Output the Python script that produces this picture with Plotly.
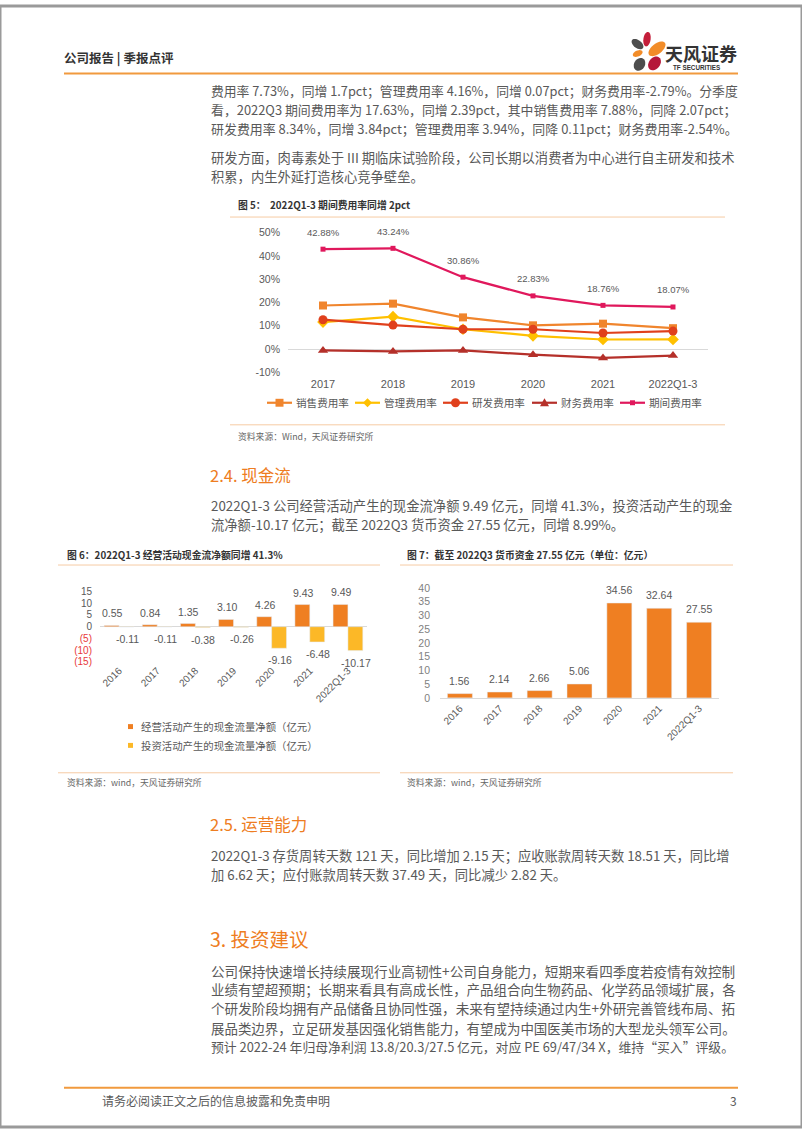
import math
import plotly.graph_objects as go

W, H = 802, 1133


def X(px):
    return px / W


def Y(py):
    return 1 - py / H


# ---------------- data ----------------
years1 = ["2017", "2018", "2019", "2020", "2021", "2022Q1-3"]
sales_rate = [18.7, 19.5, 13.6, 10.2, 10.9, 8.97]
admin_rate = [11.6, 13.9, 8.5, 5.7, 4.1, 4.16]
rd_rate = [12.6, 10.3, 8.5, 8.5, 6.9, 7.73]
fin_rate = [-0.6, -1.0, -0.6, -2.4, -3.8, -2.79]
period_rate = [42.88, 43.24, 30.86, 22.83, 18.76, 18.07]
names1 = ["销售费用率", "管理费用率", "研发费用率", "财务费用率", "期间费用率"]

years2 = ["2016", "2017", "2018", "2019", "2020", "2021", "2022Q1-3"]
op_cf = [0.55, 0.84, 1.35, 3.10, 4.26, 9.43, 9.49]
inv_cf = [-0.11, -0.11, -0.38, -0.26, -9.16, -6.48, -10.17]
names2 = ["经营活动产生的现金流量净额（亿元）", "投资活动产生的现金流量净额（亿元）"]

cash = [1.56, 2.14, 2.66, 5.06, 34.56, 32.64, 27.55]

y1_ticks = [-10, 0, 10, 20, 30, 40, 50]
y1_ticktext = [f"{v}%" for v in y1_ticks]
y2_ticks = [15, 10, 5, 0, -5, -10, -15]
y2_ticktext = ["15", "10", "5", "0", "(5)", "(10)", "(15)"]
y3_ticks = [0, 5, 10, 15, 20, 25, 30, 35, 40]

# ---------------- styles ----------------
CJK = "Noto Sans CJK SC"
BODY_FONT = "Noto Sans CJK SC, sans-serif"
CHART_FONT = "Liberation Sans, Noto Sans CJK SC, sans-serif"
GRAY = "#595959"
ORANGE = "#EE7D22"
C_SALES = "#F0852D"
C_ADMIN = "#FFC000"
C_RD = "#E0401C"
C_FIN = "#B5302A"
C_PERIOD = "#E0185C"
C_OP = "#EF7F22"
C_INV = "#FCB827"
PEACH = "#F6CBA4"

fig = go.Figure()

# ---------------- chart 5 (lines) ----------------
series1 = [
    (sales_rate, C_SALES, "square", 8),
    (admin_rate, C_ADMIN, "diamond", 9),
    (rd_rate, C_RD, "circle", 9),
    (fin_rate, C_FIN, "triangle-up", 9),
    (period_rate, C_PERIOD, "square", 5),
]
for (vals, col, sym, sz), nm in zip(series1, names1):
    fig.add_trace(go.Scatter(
        x=years1, y=vals, name=nm, mode="lines+markers",
        line=dict(color=col, width=2.2),
        marker=dict(symbol=sym, size=sz, color=col),
        xaxis="x", yaxis="y", showlegend=False, cliponaxis=False,
    ))
for i, v in enumerate(period_rate):
    fig.add_annotation(x=i, y=v, xref="x", yref="y", text=f"{v:.2f}%",
                       showarrow=False, yshift=17,
                       font=dict(family=CHART_FONT, size=9.5, color=GRAY))

# ---------------- chart 6 (grouped bars) ----------------
slot6 = 0.39
fig.add_trace(go.Bar(x=years2, y=op_cf, name=names2[0], marker_color=C_OP,
                     width=slot6, offset=-slot6, xaxis="x2", yaxis="y2",
                     showlegend=False))
fig.add_trace(go.Bar(x=years2, y=inv_cf, name=names2[1], marker_color=C_INV,
                     width=slot6, offset=0, xaxis="x2", yaxis="y2",
                     showlegend=False))
for i, v in enumerate(op_cf):
    fig.add_annotation(x=i, y=v, xref="x2", yref="y2", text=f"{v:.2f}",
                       showarrow=False, xshift=-6.5, yshift=12,
                       font=dict(family=CHART_FONT, size=10.5, color=GRAY))
for i, v in enumerate(inv_cf):
    fig.add_annotation(x=i, y=v, xref="x2", yref="y2", text=f"{v:.2f}",
                       showarrow=False, xshift=8, yshift=-12,
                       font=dict(family=CHART_FONT, size=10.5, color=GRAY))

# ---------------- chart 7 (bars) ----------------
fig.add_trace(go.Bar(x=years2, y=cash, name="货币资金", marker_color=C_OP,
                     width=0.627, xaxis="x3", yaxis="y3", showlegend=False))
for i, v in enumerate(cash):
    fig.add_annotation(x=i, y=v, xref="x3", yref="y3", text=f"{v:.2f}",
                       showarrow=False, yshift=13,
                       font=dict(family=CHART_FONT, size=10.5, color=GRAY))

axis_common = dict(showgrid=False, ticks="", fixedrange=True)
tickf = dict(family=CHART_FONT, size=10.5, color=GRAY)

fig.update_layout(
    width=W, height=H, autosize=False,
    margin=dict(l=0, r=0, t=0, b=0),
    paper_bgcolor="white", plot_bgcolor="rgba(0,0,0,0)",
    barmode="overlay",
    xaxis=dict(domain=[X(288), X(708)], anchor="y", type="category",
               range=[-0.5, len(years1) - 0.5],
               tickfont=dict(family=CHART_FONT, size=11, color=GRAY),
               showline=False, zeroline=False, ticklabelstandoff=4, **axis_common),
    yaxis=dict(domain=[Y(370.3), Y(229)], anchor="x", range=[-10, 50],
               tickvals=y1_ticks, ticktext=y1_ticktext, tickfont=tickf,
               zeroline=True, zerolinecolor="#D9D9D9", zerolinewidth=1,
               showline=False, ticklabelstandoff=7, **axis_common),
    xaxis2=dict(domain=[X(100), X(367)], anchor="y2", type="category",
                range=[-0.5, len(years2) - 0.5],
                tickangle=-45, tickfont=dict(family=CHART_FONT, size=10, color=GRAY),
                showline=False, zeroline=False, **axis_common),
    yaxis2=dict(domain=[Y(663), Y(591.7)], anchor="x2", range=[-15, 15],
                tickvals=y2_ticks,
                ticktext=[t if v >= 0 else f'<span style="color:#E8393A">{t}</span>'
                          for t, v in zip(y2_ticktext, y2_ticks)],
                tickfont=dict(family=CHART_FONT, size=10, color=GRAY),
                zeroline=True, zerolinecolor="#D9D9D9", zerolinewidth=1,
                showline=False, ticklabelstandoff=7, **axis_common),
    xaxis3=dict(domain=[X(440), X(719)], anchor="y3", type="category",
                range=[-0.5, len(years2) - 0.5],
                tickangle=-45, tickfont=dict(family=CHART_FONT, size=10, color=GRAY),
                showline=True, linecolor="#D9D9D9", linewidth=1, zeroline=False,
                **axis_common),
    yaxis3=dict(domain=[Y(699.3), Y(588.3)], anchor="x3", range=[0, 40],
                tickvals=y3_ticks, tickfont=dict(family=CHART_FONT, size=10.5, color="#7F7F7F"),
                zeroline=False, showline=False, ticklabelstandoff=9, **axis_common),
)

shapes = []


def hline(py, x0, x1, color, width):
    shapes.append(dict(type="line", xref="paper", yref="paper",
                       x0=X(x0), x1=X(x1), y0=Y(py), y1=Y(py),
                       line=dict(color=color, width=width)))


# page frame
shapes.append(dict(type="rect", xref="paper", yref="paper", x0=0, x1=1, y0=0, y1=1,
                   line=dict(color="#9A9A9A", width=3)))
# header / footer rules
hline(68.3, 64, 738, "#F19A3E", 2)
hline(1093.3, 64, 738, "#F19A3E", 2)
# chart frames
hline(213.3, 230, 725, PEACH, 1)
hline(423.3, 230, 725, PEACH, 1)
hline(565, 58, 380, PEACH, 1)
hline(775, 58, 380, PEACH, 1)
hline(565, 400, 733, PEACH, 1)
hline(775, 400, 733, PEACH, 1)


# logo petals
def ellipse_path(cx, cy, a, b, ang_deg, n=28):
    ang = math.radians(ang_deg)
    pts = []
    for i in range(n):
        t = 2 * math.pi * i / n
        ex, ey = a * math.cos(t), b * math.sin(t)
        px = cx + ex * math.cos(ang) - ey * math.sin(ang)
        py = cy + ex * math.sin(ang) + ey * math.cos(ang)
        pts.append(f"{X(px):.5f},{Y(py):.5f}")
    return "M " + " L ".join(pts) + " Z"


petals = [
    (637.5, 38.5, 6.8, 4.0, 38, "#4D4D4D"),
    (647.0, 33.5, 3.6, 7.4, 8, "#C41E3A"),
    (657.0, 43.3, 10.0, 5.2, -38, "#F28C28"),
    (637.7, 48.0, 5.2, 3.0, -24, "#F28C28"),
    (639.5, 59.0, 6.8, 5.4, -60, "#4D4D4D"),
    (654.5, 58.0, 7.6, 5.6, -53, "#B5173A"),
]
for cx, cy, a, b, ang, col in petals:
    shapes.append(dict(type="path", xref="paper", yref="paper",
                       path=ellipse_path(cx, cy, a, b, ang),
                       fillcolor=col, line=dict(width=0)))

# chart 5 manual legend keys
leg1_x = [267, 355, 443, 532, 620]
leg1_y = 401
for (vals, col, sym, sz), lx in zip(series1, leg1_x):
    hline(leg1_y, lx, lx + 25, col, 2.2)
    cx = lx + 12.5
    r = sz / 2
    if sym == "square":
        shapes.append(dict(type="rect", xref="paper", yref="paper",
                           x0=X(cx - r), x1=X(cx + r), y0=Y(leg1_y + r), y1=Y(leg1_y - r),
                           fillcolor=col, line=dict(width=0)))
    elif sym == "circle":
        shapes.append(dict(type="circle", xref="paper", yref="paper",
                           x0=X(cx - r), x1=X(cx + r), y0=Y(leg1_y + r), y1=Y(leg1_y - r),
                           fillcolor=col, line=dict(width=0)))
    elif sym == "diamond":
        p = (f"M {X(cx)},{Y(leg1_y - r)} L {X(cx + r)},{Y(leg1_y)} "
             f"L {X(cx)},{Y(leg1_y + r)} L {X(cx - r)},{Y(leg1_y)} Z")
        shapes.append(dict(type="path", xref="paper", yref="paper", path=p,
                           fillcolor=col, line=dict(width=0)))
    else:
        p = (f"M {X(cx)},{Y(leg1_y - r)} L {X(cx + r)},{Y(leg1_y + r * 0.8)} "
             f"L {X(cx - r)},{Y(leg1_y + r * 0.8)} Z")
        shapes.append(dict(type="path", xref="paper", yref="paper", path=p,
                           fillcolor=col, line=dict(width=0)))

# chart 6 manual legend keys
leg2_y = [728.3, 747.3]
for col, ly in zip([C_OP, C_INV], leg2_y):
    shapes.append(dict(type="rect", xref="paper", yref="paper",
                       x0=X(128), x1=X(133), y0=Y(ly + 2.5), y1=Y(ly - 2.5),
                       fillcolor=col, line=dict(width=0)))

fig.update_layout(shapes=shapes)


def text(px, py, s, size, color=GRAY, family=BODY_FONT, anchor="left", bold=False):
    if bold:
        s = f"<b>{s}</b>"
    fig.add_annotation(xref="paper", yref="paper", x=X(px), y=Y(py), text=s,
                       showarrow=False, xanchor=anchor, yanchor="middle",
                       borderpad=0, font=dict(family=family, size=size, color=color))


LATIN_W = {" ": 0.278, ".": 0.278, "%": 0.889, "-": 0.333, "/": 0.278, "+": 0.584,
           "I": 0.278, "Q": 0.778, "X": 0.667, "P": 0.667, "E": 0.667,
           "c": 0.5, "t": 0.278, "p": 0.556}


def em_units(s):
    return sum(1.0 if ord(ch) > 0x2000 else LATIN_W.get(ch, 0.556) for ch in s)


BODY_W = 525
BASE = 13.3


def body(px, py, s, full=True):
    size = min(13.6, BODY_W / em_units(s)) if full else BASE
    text(px, py, s, size, GRAY, BODY_FONT)


# header
text(63, 52, "公司报告 | 季报点评", 12.5, "#333333", CJK, bold=True)
text(664, 47, "天风证券", 18, "#333333", CJK, bold=True)
text(672, 62, "TF SECURITIES", 6.3, "#333333", "Liberation Sans Narrow, Liberation Sans", bold=True)

BX = 210
body1 = [
    "费用率 7.73%，同增 1.7pct；管理费用率 4.16%，同增 0.07pct；财务费用率-2.79%。分季度",
    "看，2022Q3 期间费用率为 17.63%，同增 2.39pct，其中销售费用率 7.88%，同降 2.07pct；",
    "研发费用率 8.34%，同增 3.84pct；管理费用率 3.94%，同降 0.11pct；财务费用率-2.54%。",
]
for s, py in zip(body1, [85, 104.3, 123.5]):
    body(BX, py, s)
body2 = [
    "研发方面，肉毒素处于 III 期临床试验阶段，公司长期以消费者为中心进行自主研发和技术",
    "积累，内生外延打造核心竞争壁垒。",
]
for s, py, full in zip(body2, [153, 172.3], [True, False]):
    body(BX, py, s, full)

# chart 5 texts
text(237, 201, "图 5：  2022Q1-3 期间费用率同增 2pct", 9.8, "#333333", CJK, bold=True)
for nm, lx in zip(names1, leg1_x):
    text(lx + 28, leg1_y, nm, 10.6, GRAY, CJK)
text(237, 435, "资料来源：Wind，天风证券研究所", 8.8, "#666666", CJK)

# section 2.4
text(209, 474, "2.4. 现金流", 16.5, ORANGE, CJK)
body3 = [
    "2022Q1-3 公司经营活动产生的现金流净额 9.49 亿元，同增 41.3%，投资活动产生的现金",
    "流净额-10.17 亿元；截至 2022Q3 货币资金 27.55 亿元，同增 8.99%。",
]
for s, py, full in zip(body3, [504.5, 524], [True, False]):
    body(BX, py, s, full)

# chart 6/7 texts
text(66, 555, "图 6：2022Q1-3 经营活动现金流净额同增 41.3%", 9.8, "#333333", CJK, bold=True)
text(406, 555, "图 7：截至 2022Q3 货币资金 27.55 亿元（单位：亿元）", 9.8, "#333333", CJK, bold=True)
for nm, ly in zip(names2, leg2_y):
    text(140, ly, nm, 10.4, GRAY, CJK)
text(66, 785, "资料来源：wind，天风证券研究所", 8.8, "#666666", CJK)
text(406, 785, "资料来源：wind，天风证券研究所", 8.8, "#666666", CJK)

# section 2.5
text(209, 827, "2.5. 运营能力", 16.5, ORANGE, CJK)
body4 = [
    "2022Q1-3 存货周转天数 121 天，同比增加 2.15 天；应收账款周转天数 18.51 天，同比增",
    "加 6.62 天；应付账款周转天数 37.49 天，同比减少 2.82 天。",
]
for s, py, full in zip(body4, [858.3, 877.7], [True, False]):
    body(BX, py, s, full)

# section 3
text(209, 942, "3. 投资建议", 19.5, ORANGE, CJK)
body5 = [
    "公司保持快速增长持续展现行业高韧性+公司自身能力，短期来看四季度若疫情有效控制",
    "业绩有望超预期；长期来看具有高成长性，产品组合向生物药品、化学药品领域扩展，各",
    "个研发阶段均拥有产品储备且协同性强，未来有望持续通过内生+外研完善管线布局、拓",
    "展品类边界，立足研发基因强化销售能力，有望成为中国医美市场的大型龙头领军公司。",
    "预计 2022-24 年归母净利润 13.8/20.3/27.5 亿元，对应 PE 69/47/34 X，维持“买入”评级。",
]
for s, py in zip(body5, [975, 994, 1013, 1032.5, 1051.5]):
    body(BX, py, s)

# footer
text(101, 1106, "请务必阅读正文之后的信息披露和免责申明", 12, GRAY, BODY_FONT)
text(733, 1106, "3", 12, GRAY, BODY_FONT, anchor="center")

fig.write_html("out.html", config={"displayModeBar": False},
               post_script="document.body.style.margin='0';document.body.style.overflow='hidden';")
